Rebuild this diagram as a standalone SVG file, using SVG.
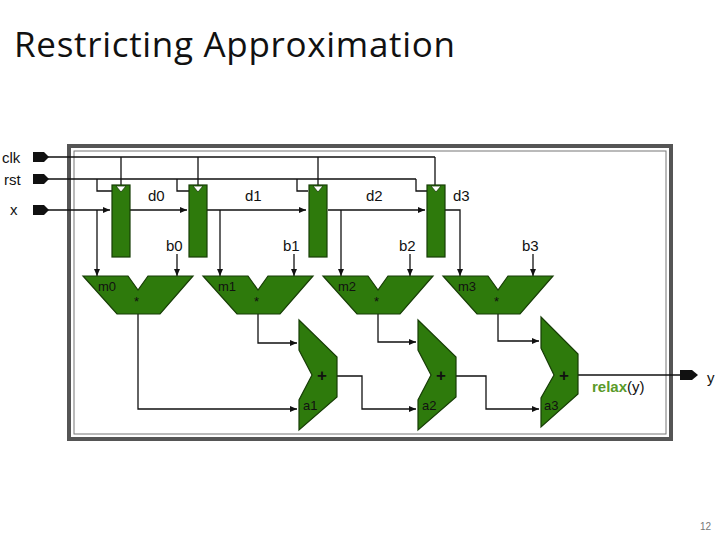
<svg xmlns="http://www.w3.org/2000/svg" width="720" height="540" viewBox="0 0 720 540">
<style>
.t{font-family:"Liberation Sans",Arial,sans-serif;font-size:15px;fill:#111}
.s{font-family:"Liberation Sans",Arial,sans-serif;font-size:13px;fill:#111}
.g{fill:#2e7a0c;stroke:#173d06;stroke-width:1.2}
.w{fill:none;stroke:#111;stroke-width:1.3}
.p{fill:#111}
</style>
<defs><marker id="a" markerWidth="8" markerHeight="8" refX="7" refY="4" orient="auto" markerUnits="userSpaceOnUse"><path d="M0,1 L7,4 L0,7 z" fill="#111"/></marker></defs>
<rect width="720" height="540" fill="#fff"/>
<text x="14" y="57" font-family="'Open Sans','Liberation Sans',sans-serif" font-size="35" fill="#111" textLength="441">Restricting Approximation</text>
<g id="frame"><rect x="69" y="146" width="602" height="293" fill="none" stroke="#555" stroke-width="4"/><rect x="74" y="151" width="592" height="283" fill="none" stroke="#777" stroke-width="1"/></g>
<g id="connectors">
<path class="w" d="M48,157 H435 M121,157 V185 M198,157 V185 M318,157 V185 M435,157 V185"/>
<path class="w" d="M48,179 H416 M97,179 V191 H112 M177,179 V191 H189 M297,179 V191 H308 M416,179 V191 H427"/>
<path class="w" d="M48,210 H110" marker-end="url(#a)"/>
<path class="w" d="M97,210 V276" marker-end="url(#a)"/>
<path class="w" d="M130,210 H187" marker-end="url(#a)"/>
<path class="w" d="M207,210 H306" marker-end="url(#a)"/>
<path class="w" d="M220,210 V276" marker-end="url(#a)"/>
<path class="w" d="M328,210 H425" marker-end="url(#a)"/>
<path class="w" d="M341,210 V276" marker-end="url(#a)"/>
<path class="w" d="M445,210 H460 V276" marker-end="url(#a)"/>
<path class="w" d="M177,254 V276" marker-end="url(#a)"/>
<path class="w" d="M294,254 V276" marker-end="url(#a)"/>
<path class="w" d="M410,254 V276" marker-end="url(#a)"/>
<path class="w" d="M533,254 V276" marker-end="url(#a)"/>
<path class="w" d="M138,314 V409 H297" marker-end="url(#a)"/>
<path class="w" d="M258,314 V343 H297" marker-end="url(#a)"/>
<path class="w" d="M337,376 H362 V409 H416" marker-end="url(#a)"/>
<path class="w" d="M378,314 V342 H416" marker-end="url(#a)"/>
<path class="w" d="M456,376 H486 V409 H539" marker-end="url(#a)"/>
<path class="w" d="M498,314 V341 H539" marker-end="url(#a)"/>
<path class="w" d="M578,375 H682"/>
</g>
<g id="ports">
<path class="p" d="M33,152 H44 L49,157 L44,162 H33 z"/><text class="t" x="2" y="163">clk</text>
<path class="p" d="M33,174 H44 L49,179 L44,184 H33 z"/><text class="t" x="4" y="185">rst</text>
<path class="p" d="M33,205 H44 L49,210 L44,215 H33 z"/><text class="t" x="10" y="215">x</text>
<path class="p" d="M680,370 H692 L698,375 L692,380 H680 z"/><text class="t" x="707" y="383">y</text>
</g>
<g id="regs">
<g id="r0"><rect class="g" x="112" y="185" width="18" height="72"/><path d="M116,186 L121,192 L126,186 z" fill="#fff" stroke="#173d06" stroke-width="0.8"/></g>
<g id="r1"><rect class="g" x="189" y="185" width="18" height="72"/><path d="M193,186 L198,192 L203,186 z" fill="#fff" stroke="#173d06" stroke-width="0.8"/></g>
<g id="r2"><rect class="g" x="309" y="185" width="18" height="72"/><path d="M313,186 L318,192 L323,186 z" fill="#fff" stroke="#173d06" stroke-width="0.8"/></g>
<g id="r3"><rect class="g" x="427" y="185" width="18" height="72"/><path d="M431,186 L436,192 L441,186 z" fill="#fff" stroke="#173d06" stroke-width="0.8"/></g>
</g>
<g id="labels">
<text class="t" x="148" y="201">d0</text><text class="t" x="245" y="201">d1</text><text class="t" x="366" y="201">d2</text><text class="t" x="453" y="201">d3</text>
<text class="t" x="166" y="251">b0</text><text class="t" x="283" y="251">b1</text><text class="t" x="399" y="251">b2</text><text class="t" x="522" y="251">b3</text>
</g>
<g id="m0"><path class="g" d="M83,276 H128 L138,290 L148,276 H193 L160,314 H117 z"/><text class="s" x="98" y="291">m0</text><text class="s" x="134" y="306">*</text></g>
<g id="m1"><path class="g" d="M203,276 H248 L258,290 L268,276 H313 L280,314 H237 z"/><text class="s" x="218" y="291">m1</text><text class="s" x="254" y="306">*</text></g>
<g id="m2"><path class="g" d="M323,276 H368 L378,290 L388,276 H433 L400,314 H357 z"/><text class="s" x="338" y="291">m2</text><text class="s" x="374" y="306">*</text></g>
<g id="m3"><path class="g" d="M443,276 H488 L498,290 L508,276 H553 L520,314 H477 z"/><text class="s" x="458" y="291">m3</text><text class="s" x="494" y="306">*</text></g>
<g id="a1"><path class="g" d="M299,320 L337,357 V397 L299,430 V400 L312,375 L299,350 z"/><text x="317" y="381" font-family="Liberation Sans,sans-serif" font-size="17" font-weight="bold" fill="#111">+</text><text class="s" x="303" y="410">a1</text></g>
<g id="a2"><path class="g" d="M418,320 L456,357 V397 L418,430 V400 L431,375 L418,350 z"/><text x="436" y="381" font-family="Liberation Sans,sans-serif" font-size="17" font-weight="bold" fill="#111">+</text><text class="s" x="422" y="410">a2</text></g>
<g id="a3"><path class="g" d="M541,317 L578,354 V394 L541,427 V398 L554,375 L541,348 z"/><text x="559" y="381" font-family="Liberation Sans,sans-serif" font-size="17" font-weight="bold" fill="#111">+</text><text class="s" x="544" y="410">a3</text></g>
<text x="592" y="392" font-family="'Liberation Sans',sans-serif" font-size="15" fill="#111"><tspan font-weight="bold" fill="#5a9a2a">relax</tspan>(y)</text>
<text x="700" y="530" font-family="'Liberation Sans',sans-serif" font-size="10" fill="#777">12</text>
</svg>
